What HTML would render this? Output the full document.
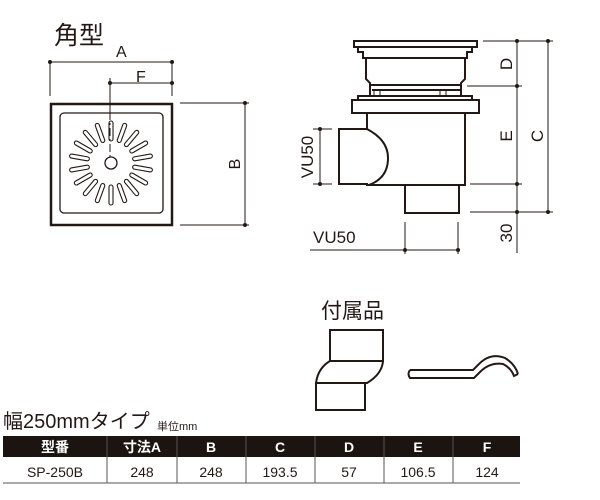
<!DOCTYPE html>
<html><head><meta charset="utf-8"><style>
html,body{margin:0;padding:0;background:#fff;width:600px;height:500px;overflow:hidden}
svg{display:block}
text{font-family:"Liberation Sans","Noto Sans CJK JP",sans-serif;fill:#231815}
</style></head><body>
<svg width="600" height="500" viewBox="0 0 600 500" xmlns="http://www.w3.org/2000/svg">
<g stroke="#231815" fill="none" stroke-width="1">
<!-- left top view -->
<text x="54" y="44" font-size="25" stroke="none">角型</text>
<text x="116" y="57" font-size="16" stroke="none">A</text>
<text x="136" y="82" font-size="16" stroke="none">F</text>
<line x1="50" y1="62" x2="172" y2="62"/>
<line x1="50" y1="62" x2="50" y2="96"/>
<line x1="172" y1="62" x2="172" y2="96"/>
<line x1="110" y1="83" x2="172" y2="83"/>
<line x1="110" y1="78" x2="110" y2="112"/>
<line x1="110" y1="112" x2="110" y2="158" stroke-dasharray="8,3,2,3"/>
<g fill="#231815" stroke="none">
<circle cx="50" cy="62" r="2"/><circle cx="172" cy="62" r="2"/>
<circle cx="110" cy="83" r="2"/><circle cx="172" cy="83" r="2"/>
<circle cx="245" cy="103" r="2"/><circle cx="245" cy="225" r="2"/>
</g>
<rect x="51" y="104" width="121" height="121" stroke-width="2.5"/>
<rect x="60" y="113" width="103" height="100" rx="4" stroke-width="1.3"/>
<circle cx="111" cy="163" r="6" stroke-width="1.3"/>
<g stroke-width="1.1" transform="translate(111 163)">
<g id="s"><rect x="-2" y="-42" width="4" height="20" rx="2"/></g>
<use href="#s" transform="rotate(20)"/><use href="#s" transform="rotate(40)"/><use href="#s" transform="rotate(60)"/>
<use href="#s" transform="rotate(80)"/><use href="#s" transform="rotate(100)"/><use href="#s" transform="rotate(120)"/>
<use href="#s" transform="rotate(140)"/><use href="#s" transform="rotate(160)"/><use href="#s" transform="rotate(180)"/>
<use href="#s" transform="rotate(200)"/><use href="#s" transform="rotate(220)"/><use href="#s" transform="rotate(240)"/>
<use href="#s" transform="rotate(260)"/><use href="#s" transform="rotate(280)"/><use href="#s" transform="rotate(300)"/>
<use href="#s" transform="rotate(320)"/><use href="#s" transform="rotate(340)"/>
</g>
<line x1="180" y1="103" x2="249" y2="103"/>
<line x1="180" y1="225" x2="249" y2="225"/>
<line x1="245" y1="103" x2="245" y2="225"/>
<text x="0" y="0" font-size="16" stroke="none" transform="translate(240 164) rotate(-90)" text-anchor="middle">B</text>

<!-- side view -->
<g stroke-width="2">
<path d="M354,41 H477 V47 H354 Z"/>
<path d="M358,47 V52 H363 V58 H467 V52 H472 V47"/>
<path d="M363,58 H467"/>
<path d="M366,58 V79 L370,83 V96 M465,58 V79 L461,83 V96"/>
<path d="M370,85 H461 M372,90 H460"/>
<path d="M358,96 H472 V100 H479 V113 H352 V100 H358 Z"/>
<path d="M358,100 H472"/>
<path d="M367,113 V129 H339 V184 H367 V185 H465 V113"/>
<path d="M367,129 Q388,140 388,158 Q388,178 369,185"/>
<path d="M405,185 V213 H459 V185"/>
</g>
<path d="M374,90 V96 M380,90 V96 M440,90 V96 M446,90 V96" stroke-width="1"/>
<!-- dims right -->
<line x1="483" y1="41" x2="553" y2="41"/>
<line x1="467" y1="86" x2="522" y2="86"/>
<line x1="470" y1="184" x2="522" y2="184"/>
<line x1="470" y1="212" x2="553" y2="212"/>
<line x1="517" y1="41" x2="517" y2="253"/>
<line x1="548" y1="41" x2="548" y2="212"/>
<g fill="#231815" stroke="none">
<circle cx="517" cy="41" r="2"/><circle cx="517" cy="86" r="2"/><circle cx="517" cy="184" r="2"/><circle cx="517" cy="212" r="2"/>
<circle cx="548" cy="41" r="2"/><circle cx="548" cy="212" r="2"/>
<circle cx="320" cy="129" r="2"/><circle cx="320" cy="184" r="2"/>
<circle cx="405" cy="250" r="2"/><circle cx="458" cy="250" r="2"/>
</g>
<g font-size="17" stroke="none" text-anchor="middle">
<text transform="translate(512 64) rotate(-90)">D</text>
<text transform="translate(512 136) rotate(-90)">E</text>
<text transform="translate(543 136) rotate(-90)">C</text>
<text transform="translate(512 233) rotate(-90)">30</text>
<text transform="translate(313 157) rotate(-90)">VU50</text>
</g>
<text x="313" y="243" font-size="17" stroke="none">VU50</text>
<line x1="313" y1="129" x2="332" y2="129"/>
<line x1="313" y1="184" x2="332" y2="184"/>
<line x1="320" y1="129" x2="320" y2="184"/>
<line x1="310" y1="250" x2="458" y2="250"/>
<line x1="405" y1="222" x2="405" y2="254"/>
<line x1="458" y1="222" x2="458" y2="254"/>

<!-- accessories -->
<text x="321" y="318" font-size="21" stroke="none">付属品</text>
<g stroke-width="2">
<path d="M330,330 H383 V361 H330 Z"/>
<path d="M330,361 Q318,368 316,383 H367 Q382,374 383,361"/>
<path d="M316,383 V410 H365 V383"/>
<path d="M410,370 H473 L478,365 Q490,352 505,358 Q515,364 518,374 M410,370 Q407,374 410,378 H474 L480,372 Q490,362 503,364 Q511,368 514,376 L518,374"/>
</g>
</g>
<!-- table -->
<text x="3" y="428" font-size="20">幅250mmタイプ</text>
<text x="157" y="430" font-size="11">単位mm</text>
<rect x="3" y="436" width="517" height="21" fill="#1c1410"/>
<g stroke="#555" stroke-width="1">
<line x1="107" y1="436" x2="107" y2="483"/><line x1="177" y1="436" x2="177" y2="483"/>
<line x1="246" y1="436" x2="246" y2="483"/><line x1="315" y1="436" x2="315" y2="483"/>
<line x1="384" y1="436" x2="384" y2="483"/><line x1="453" y1="436" x2="453" y2="483"/>
<line x1="3" y1="483" x2="520" y2="483"/>
</g>
<g font-size="14" text-anchor="middle">
<g font-weight="bold">
<text x="55" y="452" style="fill:#fff">型番</text><text x="142" y="452" style="fill:#fff">寸法A</text>
<text x="211" y="452" style="fill:#fff">B</text><text x="280" y="452" style="fill:#fff">C</text>
<text x="349" y="452" style="fill:#fff">D</text><text x="418" y="452" style="fill:#fff">E</text>
<text x="487" y="452" style="fill:#fff">F</text>
</g>
<text x="55" y="477">SP-250B</text><text x="142" y="477">248</text><text x="211" y="477">248</text>
<text x="280" y="477">193.5</text><text x="349" y="477">57</text><text x="418" y="477">106.5</text><text x="487" y="477">124</text>
</g>
</svg>
</body></html>
